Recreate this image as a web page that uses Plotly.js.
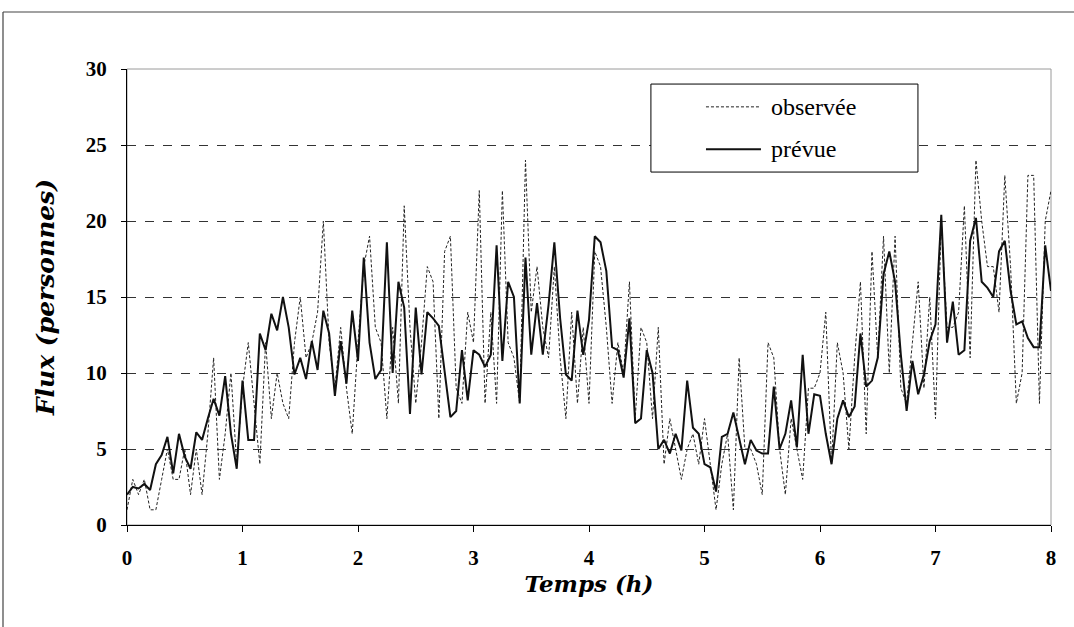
<!DOCTYPE html>
<html>
<head>
<meta charset="utf-8">
<script src="https://cdn.plot.ly/plotly-3.0.1.min.js"></script>
<style>
html,body{margin:0;padding:0;background:#fff;}
#chart{width:1074px;height:627px;}
</style>
</head>
<body>
<div id="chart"></div>
<script>
const T0 = 0;
const DT = 0.05;

const observee = [
  1,3,2,3,1,1,3,5,3,3,
  5,2,5,2,6,11,3,6,10,4,
  9,12,8,4,12,7,10,8,7,12,
  15,11,12,14,20,12,9,13,9,6,
  12,17,19,13,12,7,13,8,21,13,
  8,12,17,16,7,18,19,9,8,14,
  12,22,8,14,8,22,12,11,8,24,
  14,17,13,11,17,11,7,14,8,13,
  8,18,17,13,8,12,10,16,7,13,
  12,7,13,4,7,5,3,5,6,4,
  7,4,1,4,6,1,11,5,5,4,
  2,12,11,5,2,7,5,3,9,9,
  10,14,4,12,10,5,11,16,6,18,
  11,19,10,19,9,8,12,16,9,15,
  7,20,13,13,14,21,11,24,20,17,
  17,14,23,17,8,10,23,23,8,20,
  22
];

const prevue = [
  2.0,2.5,2.4,2.7,2.3,4.0,4.6,5.8,3.4,6.0,
  4.5,3.7,6.1,5.6,7.0,8.3,7.2,9.8,6.0,3.7,
  9.5,5.6,5.6,12.6,11.5,13.9,12.8,15.0,13.0,9.9,
  11.0,9.6,12.1,10.2,14.1,12.6,8.5,12.1,9.3,14.1,
  10.8,17.6,12.0,9.6,10.2,18.6,10.0,16.0,14.3,7.3,
  14.3,9.9,14.0,13.6,13.1,10.0,7.1,7.5,11.5,8.2,
  11.5,11.2,10.4,11.2,18.4,10.8,16.0,15.0,8.0,17.6,
  11.2,14.6,11.2,14.5,18.6,13.6,9.9,9.5,14.1,11.2,
  13.5,19.0,18.6,16.7,11.7,11.5,9.7,13.6,6.7,7.0,
  11.5,10.0,5.0,5.6,4.7,6.0,4.9,9.5,6.4,6.0,
  4.0,3.8,2.2,5.8,6.0,7.4,5.6,4.0,5.6,4.9,
  4.7,4.7,9.1,5.0,6.0,8.2,5.1,11.2,6.0,8.6,
  8.5,6.0,4.0,7.0,8.2,7.1,7.8,12.6,9.1,9.5,
  11.0,16.5,18.0,16.0,11.2,7.5,10.8,8.6,9.9,12.1,
  13.2,20.4,12.0,14.7,11.2,11.5,18.7,20.2,16.0,15.6,
  15.0,18.0,18.7,15.4,13.2,13.4,12.3,11.7,11.7,18.4,
  15.4
];

const xTicks = [0,1,2,3,4,5,6,7,8];
const yTicks = [0,5,10,15,20,25,30];
const seriesNames = ['observée','prévue'];

const serif = 'Liberation Serif';
const titleSerif = 'DejaVu Serif';

const traces = [
  {type:'scatter', mode:'lines', name:seriesNames[0], x0:T0, dx:DT, y:observee,
   line:{color:'#222', width:1, dash:'3px,2px'}, showlegend:false},
  {type:'scatter', mode:'lines', name:seriesNames[1], x0:T0, dx:DT, y:prevue,
   line:{color:'#111', width:2}, showlegend:false}
];

const L = {x0:0.567, x1:0.856, y0:0.774, y1:0.967};

const layout = {
  width:1074, height:627,
  margin:{l:127, r:23, t:69, b:102},
  paper_bgcolor:'#fff', plot_bgcolor:'#fff',
  font:{family:serif, color:'#000'},
  xaxis:{
    range:[0,8], tickvals:xTicks, ticktext:xTicks.map(String),
    showgrid:false, zeroline:false,
    showline:true, linecolor:'#000', linewidth:1,
    ticks:'outside', ticklen:6, tickcolor:'#000',
    tickfont:{family:serif, size:21, color:'#000', weight:'bold'},
    ticklabelstandoff:8,
    title:{text:'Temps (h)', font:{family:titleSerif, size:23, color:'#000', weight:'bold', style:'italic'}, standoff:2}
  },
  yaxis:{
    range:[0,30], tickvals:yTicks, ticktext:yTicks.map(String),
    showgrid:true, gridcolor:'#333', gridwidth:1, griddash:'dash',
    zeroline:false,
    showline:true, linecolor:'#000', linewidth:1,
    ticks:'outside', ticklen:5, tickcolor:'#000',
    tickfont:{family:serif, size:21, color:'#000', weight:'bold'},
    ticklabelstandoff:10,
    title:{text:'Flux (personnes)', font:{family:titleSerif, size:25, color:'#000', weight:'bold', style:'italic'}, standoff:24}
  },
  shapes:[
    {type:'rect', xref:'paper', yref:'paper', x0:0, x1:1, y0:0, y1:1,
     line:{color:'#9a9a9a', width:1}, layer:'below'},
    {type:'line', xref:'paper', yref:'paper', x0:-0.1342, x1:1.03, y0:1.125, y1:1.125,
     line:{color:'#444', width:1.2}},
    {type:'line', xref:'paper', yref:'paper', x0:-0.1342, x1:-0.1342, y0:1.125, y1:-0.25,
     line:{color:'#444', width:1.2}},
    {type:'rect', xref:'paper', yref:'paper', x0:L.x0, x1:L.x1, y0:L.y0, y1:L.y1,
     line:{color:'#000', width:1}, fillcolor:'#fff', layer:'above'},
    {type:'line', xref:'paper', yref:'paper', x0:0.6266, x1:0.6861, y0:0.917, y1:0.917,
     line:{color:'#222', width:1, dash:'3px,2px'}},
    {type:'line', xref:'paper', yref:'paper', x0:0.6266, x1:0.6861, y0:0.824, y1:0.824,
     line:{color:'#111', width:2}}
  ],
  annotations:[
    {xref:'paper', yref:'paper', x:0.6948, y:0.917, xanchor:'left', yanchor:'middle',
     text:seriesNames[0], showarrow:false, font:{family:serif, size:24, color:'#000'}},
    {xref:'paper', yref:'paper', x:0.6948, y:0.824, xanchor:'left', yanchor:'middle',
     text:seriesNames[1], showarrow:false, font:{family:serif, size:24, color:'#000'}}
  ]
};

Plotly.newPlot('chart', traces, layout, {displayModeBar:false, staticPlot:true});
</script>
</body>
</html>
